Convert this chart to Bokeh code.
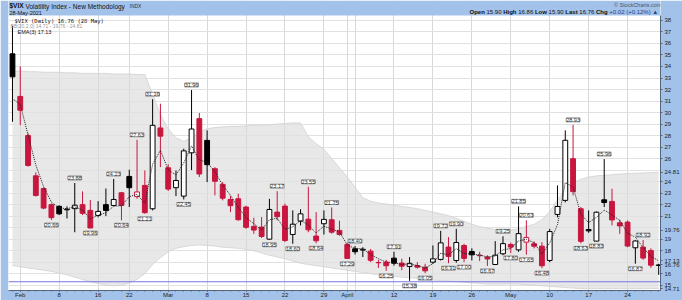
from bokeh.plotting import figure
from bokeh.models import Range1d, FixedTicker, Label, LabelSet, ColumnDataSource, Span, BoxAnnotation
from bokeh.embed import file_html
from bokeh.resources import INLINE
from bokeh.core.properties import value

# ---------------- data ----------------
dates = ["Jan29"] + ["Feb%d" % d for d in [1,2,3,4,5,8,9,10,11,12,16,17,18,19,22,23,24,25,26]] + \
        ["Mar%d" % d for d in [1,2,3,4,5,8,9,10,11,12,15,16,17,18,19,22,23,24,25,26,29,30,31]] + \
        ["Apr%d" % d for d in [1,5,6,7,8,9,12,13,14,15,16,19,20,21,22,23,26,27,28,29,30]] + \
        ["May%d" % d for d in [3,4,5,6,7,10,11,12,13,14,17,18,19,20,21,24,25,26,27,28]]

opens = [35.1, 31.4, 28.0, 24.5, 23.4, 22.0, 21.85, 21.55, 21.65, 22.0,
         21.5, 21.06, 22.0, 21.93, 23.03, 24.45, 22.7, 23.67, 21.64, 28.66,
         25.2, 23.47, 22.74, 26.5, 29.47, 27.58, 25.12, 23.76, 22.45, 22.51,
         21.79, 20.11, 20.05, 19.0, 21.35, 21.87, 19.41, 20.57, 20.74, 19.27,
         20.34, 20.69, 19.76, 18.54, 18.16, 18.05, 17.96, 16.97, 17.0, 17.35,
         16.92, 16.63, 16.71, 16.57, 17.0, 17.24, 18.31, 17.15, 18.45, 17.93,
         17.6, 17.44, 16.8, 17.73, 18.54, 18.07, 18.74, 18.6, 18.39, 17.15,
         21.15, 22.37, 25.99, 21.64, 19.84, 18.83, 22.42, 22.28, 20.42, 20.48,
         18.25, 18.31, 18.02, 16.72]
highs = [37.5, 34.0, 28.2, 24.8, 23.5, 22.1, 21.95, 21.85, 23.88, 23.15,
         22.4, 22.3, 23.4, 24.23, 23.1, 25.03, 27.63, 24.97, 31.16, 30.77,
         25.5, 24.97, 26.86, 31.96, 29.96, 28.45, 25.25, 23.96, 22.74, 22.95,
         21.9, 20.86, 20.92, 22.5, 23.17, 22.08, 21.5, 21.6, 23.55, 21.35,
         21.5, 21.75, 20.6, 18.7, 18.4, 18.3, 18.15, 17.2, 17.2, 17.91,
         17.3, 17.44, 17.0, 16.86, 18.45, 19.72, 19.18, 19.9, 18.6, 18.2,
         17.9, 17.6, 18.83, 19.25, 18.7, 21.85, 20.63, 18.8, 18.74, 19.9,
         23.67, 28.45, 28.93, 21.8, 21.5, 21.4, 25.96, 23.38, 20.69, 20.63,
         18.9, 18.92, 18.2, 16.86]
lows = [29.2, 28.9, 25.3, 22.7, 21.6, 20.66, 21.1, 20.8, 19.6, 21.1,
        19.96, 20.9, 21.0, 21.85, 20.64, 21.79, 22.5, 21.21, 21.5, 25.26,
        23.2, 22.74, 22.45, 25.0, 24.4, 23.96, 22.8, 22.37, 21.35, 20.6,
        19.9, 19.47, 19.1, 18.95, 20.63, 18.75, 18.6, 20.19, 19.6, 18.64,
        19.4, 19.47, 19.3, 17.29, 17.67, 17.45, 17.0, 16.5, 16.25, 16.7,
        16.3, 15.38, 16.45, 16.05, 16.86, 17.15, 16.91, 16.95, 17.0, 17.15,
        17.1, 16.67, 16.75, 17.6, 17.8, 17.9, 17.65, 18.2, 16.48, 17.0,
        20.9, 22.2, 22.8, 18.63, 19.55, 18.83, 21.79, 20.2, 19.47, 18.3,
        16.87, 17.2, 16.5, 15.9]
closes = [33.1, 30.2, 25.4, 22.8, 21.7, 20.87, 21.2, 21.6, 21.95, 21.25,
          19.97, 21.41, 21.5, 22.45, 21.93, 23.47, 23.1, 21.3, 28.89, 27.95,
          23.35, 24.1, 26.67, 28.57, 24.66, 25.47, 24.03, 22.56, 21.91, 20.69,
          20.03, 19.79, 19.23, 21.58, 20.95, 18.88, 20.3, 21.2, 19.81, 18.86,
          20.72, 19.61, 19.4, 17.33, 17.91, 18.12, 17.16, 16.95, 16.69, 16.91,
          16.65, 16.9, 16.57, 16.25, 17.29, 18.68, 17.5, 18.71, 17.33, 17.64,
          17.56, 17.28, 17.61, 18.61, 18.31, 19.48, 19.15, 18.39, 16.69, 19.66,
          21.84, 27.59, 23.13, 18.81, 19.72, 21.34, 22.18, 20.67, 20.15, 18.4,
          18.84, 17.36, 16.74, 16.76]
ema3 = [31.2, 30.7, 28.05, 25.43, 23.56, 22.22, 21.71, 21.65, 21.8, 21.53,
        20.75, 21.08, 21.29, 21.87, 21.9, 22.69, 22.9, 22.1, 25.5, 26.72,
        25.04, 24.57, 25.62, 27.1, 25.88, 25.68, 24.85, 23.7, 22.81, 21.75,
        20.89, 20.34, 19.79, 20.68, 20.82, 19.85, 20.07, 20.64, 20.22, 19.54,
        20.13, 19.87, 19.64, 18.48, 18.2, 18.16, 17.66, 17.3, 17.0, 16.95,
        16.8, 16.85, 16.71, 16.48, 16.88, 17.78, 17.64, 18.18, 17.75, 17.7,
        17.63, 17.45, 17.53, 18.07, 18.19, 18.84, 18.99, 18.69, 17.69, 18.67,
        20.26, 23.92, 23.53, 21.17, 20.44, 20.89, 21.53, 21.1, 20.63, 19.51,
        19.18, 18.27, 17.5, 17.13]
bb_upper = [33.6, 33.6, 33.55, 33.55, 33.5, 33.5, 33.5, 33.45, 33.45, 33.4,
            33.4, 33.4, 33.4, 33.35, 33.35, 33.35, 33.3, 33.3, 31.6, 29.8,
            28.6, 27.8, 27.5, 27.8, 28.3, 28.6, 28.7, 28.75, 28.8, 28.8,
            28.85, 28.9, 28.9, 28.95, 29.0, 29.05, 29.1, 29.1, 27.9, 27.3,
            26.8, 26.0, 25.2, 24.4, 23.5, 22.6, 22.3, 22.15, 22.05, 21.95,
            21.85, 21.75, 21.65, 21.5, 21.35, 21.2, 21.05, 20.8, 20.55, 20.3,
            20.1, 19.95, 19.85, 19.8, 19.8, 19.9, 20.1, 20.3, 20.7, 21.4,
            22.4, 23.3, 23.9, 24.2, 24.4, 24.5, 24.55, 24.6, 24.65, 24.7,
            24.72, 24.75, 24.78, 24.81]
bb_lower = [16.7, 16.6, 16.5, 16.4, 16.3, 16.2, 16.05, 15.9, 15.7, 15.5,
            15.3, 15.15, 15.0, 14.95, 15.0, 15.2, 15.5, 16.0, 16.8, 17.4,
            17.9, 18.2, 18.35, 18.45, 18.5, 18.45, 18.4, 18.3, 18.25, 18.2,
            18.1, 18.0, 17.8, 17.6, 17.45, 17.3, 17.1, 16.9, 16.8, 16.7,
            16.6, 16.5, 16.4, 16.3, 16.2, 16.1, 16.0, 15.9, 15.8, 15.75,
            15.7, 15.65, 15.6, 15.5, 15.45, 15.4, 15.35, 15.3, 15.25, 15.2,
            15.15, 15.1, 15.1, 15.1, 15.1, 15.1, 15.05, 15.0, 14.95, 14.9,
            14.85, 14.8, 14.75, 14.7, 14.7, 14.7, 14.7, 14.7, 14.7, 14.7,
            14.7, 14.7, 14.71, 14.71]
hline_level = 15.3

hi_label_idx = [8, 13, 16, 18, 23, 34, 38, 41, 44, 49, 55, 57, 63, 65, 66, 72, 76, 81]
hi_label_txt = ["23.88", "24.23", "27.63", "31.16", "31.96", "23.17", "23.55", "21.75", "18.40",
                "17.91", "19.72", "19.90", "19.25", "21.85", "20.63", "28.93", "25.96", "18.92"]
lo_label_idx = [5, 10, 14, 17, 22, 33, 36, 39, 43, 48, 51, 53, 56, 58, 61, 64, 66, 68, 73, 75, 80]
lo_label_txt = ["20.66", "19.96", "20.64", "21.21", "22.45", "18.95", "18.60", "18.64", "17.29",
                "16.25", "15.38", "16.05", "16.91", "17.00", "16.67", "17.80", "17.65", "16.48",
                "18.63", "18.83", "16.87"]

x_tick_pos = [1, 6, 11, 15, 20, 25, 30, 35, 40, 43, 49, 54, 59, 64, 69, 74, 79]
x_tick_txt = ["Feb", "8", "16", "22", "Mar", "8", "15", "22", "29", "April", "12", "19", "26",
              "May", "10", "17", "24"]
extra_grid = [44]
y_ticks = [15, 16, 18, 19, 21, 22, 23, 24, 26, 27, 28, 29, 30, 31, 32, 33, 34, 35, 36, 37, 38]
value_boxes = [24.81, 19.76, 17.13, 16.76, 14.71]

SANS = "Liberation Sans"
MONO = "DejaVu Sans Mono"
# header / legend texts: (text, px, py, size, style, color, font)
header_texts = [
    ("$VIX", 9, 5, "6.5px", "bold", "#111111", SANS),
    ("Volatility Index - New Methodology", 25, 5.5, "6.5px", "normal", "#111111", SANS),
    ("INDX", 129, 5.5, "5px", "normal", "#333333", SANS),
    ("28-May-2021", 9, 12, "5.5px", "normal", "#111111", SANS),
    ("Open", 469, 11.5, "6px", "bold", "#111111", SANS),
    ("15.90", 486, 11.5, "6px", "normal", "#111111", SANS),
    ("High", 502.7, 11.5, "6px", "bold", "#111111", SANS),
    ("16.86", 517.7, 11.5, "6px", "normal", "#111111", SANS),
    ("Low", 534.4, 11.5, "6px", "bold", "#111111", SANS),
    ("15.90", 548.1, 11.5, "6px", "normal", "#111111", SANS),
    ("Last", 564.8, 11.5, "6px", "bold", "#111111", SANS),
    ("16.76", 578.8, 11.5, "6px", "normal", "#111111", SANS),
    ("Chg", 595.5, 11.5, "6px", "bold", "#111111", SANS),
    ("+0.02 (+0.12%) \u25b2", 608.8, 11.5, "6px", "normal", "#1f3f8a", SANS),
    ("$VIX (Daily) 16.76 (28 May)", 14, 20, "5.5px", "normal", "#111111", MONO),
    ("BB(20,2.0) 14.71 - 19.76 - 24.81", 10, 25.5, "5px", "normal", "#999999", SANS),
    ("EMA(3) 17.13", 17, 31, "5.5px", "normal", "#111111", SANS),
]
credit = ("\u00a9 StockCharts.com", 661, 4, "5.5px", "normal", "#555555", SANS)

# ---------------- layout / style ----------------
W, H = 682, 300
FL, FR, FB = 8, 662, 290       # frame edges (page px); frame top is page y = 0
HDR = 15                       # blue header strip height (page px)
PPU = 11.51                    # px per VIX point
X0, X1 = -0.51, 83.23
Y0 = 14.54
YW = 38.43                     # value at top edge of the white chart area
Y1 = YW + HDR / PPU
BLUE = "#a3c2ea"
RED = "#c8163e"

p = figure(width=W, height=H, output_backend="svg", toolbar_location=None,
           x_range=Range1d(X0, X1), y_range=Range1d(Y0, Y1), y_axis_location="right",
           min_border_left=FL, min_border_right=W - FR, min_border_top=0, min_border_bottom=H - FB,
           background_fill_color="white", border_fill_color=BLUE, outline_line_color=None)

p.xgrid.ticker = FixedTicker(ticks=x_tick_pos + extra_grid)
p.ygrid.ticker = FixedTicker(ticks=list(range(15, 39)))
p.xgrid.grid_line_color = "#d9d9d9"
p.ygrid.grid_line_color = "#e1e1e1"

xa = p.xaxis[0]
xa.ticker = FixedTicker(ticks=x_tick_pos, minor_ticks=list(range(len(closes))))
xa.major_label_overrides = {pos: t for pos, t in zip(x_tick_pos, x_tick_txt)}
xa.major_label_text_font = SANS
xa.major_label_text_font_size = "6px"
xa.major_label_text_color = "#222"
xa.major_label_standoff = 0
xa.major_tick_out = 1
xa.major_tick_in = 0
xa.minor_tick_out = 1
xa.minor_tick_in = 0
xa.axis_line_color = "#55657d"
xa.major_tick_line_color = "#55657d"
xa.minor_tick_line_color = "#55657d"

ya = p.yaxis[0]
ya.ticker = FixedTicker(ticks=y_ticks + value_boxes)
ya.major_label_overrides = {v: "%.2f" % v for v in value_boxes}
ya.bounds = (Y0, YW)
ya.major_label_text_font = SANS
ya.major_label_text_font_size = "6px"
ya.major_label_text_color = "#222"
ya.major_label_standoff = 2
ya.major_tick_out = 2
ya.major_tick_in = 0
ya.minor_tick_line_color = None
ya.axis_line_color = "#55657d"
ya.major_tick_line_color = "#55657d"

idx = list(range(len(closes)))

band = p.varea(x=idx, y1=bb_lower, y2=bb_upper, fill_color="#e8e8e8", fill_alpha=1.0)
band.level = "image"
p.line(idx, bb_upper, line_color="#d2d2d2", line_width=0.8)
p.line(idx, bb_lower, line_color="#d2d2d2", line_width=0.8)

p.add_layout(Span(location=hline_level, dimension="width", line_color="#7474e6", line_width=1.2))

up = [True] + [closes[i] >= closes[i - 1] for i in range(1, len(closes))]
col = ["#000000" if u else RED for u in up]
fill = [c if cl < o else "white" for c, cl, o in zip(col, closes, opens)]
src = ColumnDataSource(dict(x=idx, h=highs, l=lows,
                            top=[max(o, c) for o, c in zip(opens, closes)],
                            bottom=[min(o, c) for o, c in zip(opens, closes)],
                            col=col, fill=fill))
p.segment(x0="x", y0="l", x1="x", y1="h", line_color="col", line_width=1, source=src)
p.vbar(x="x", width=0.62, top="top", bottom="bottom", fill_color="fill",
       line_color="col", line_width=1, source=src)

p.line(idx, ema3, line_color="#222222", line_dash="1 1", line_width=1)

hsrc = ColumnDataSource(dict(x=hi_label_idx, y=[highs[i] for i in hi_label_idx], t=hi_label_txt))
lsrc = ColumnDataSource(dict(x=lo_label_idx, y=[lows[i] for i in lo_label_idx], t=lo_label_txt))
common = dict(text_align="center", text_font=value(SANS), text_font_size="5.5px",
              text_color="#333333", background_fill_color="white",
              border_line_color="#777777", border_line_width=0.8)
p.add_layout(LabelSet(x="x", y="y", text="t", source=hsrc, y_offset=3, text_baseline="bottom", **common))
p.add_layout(LabelSet(x="x", y="y", text="t", source=lsrc, y_offset=-3, text_baseline="top", **common))

# blue header strip inside the frame (covers grid lines above the chart area)
p.add_layout(BoxAnnotation(bottom=YW, fill_color=BLUE, fill_alpha=1.0, line_color=None))


def plabel(text, px, py, size, style, color, font, align="left"):
    p.add_layout(Label(x=X0, y=Y1, x_offset=px - FL, y_offset=-py, text=text,
                       text_font=font, text_font_size=size, text_font_style=style,
                       text_color=color, text_align=align, text_baseline="middle"))


for t in header_texts:
    plabel(*t)
plabel(*credit, align="right")

open("out.html", "w").write(file_html(p, INLINE))
